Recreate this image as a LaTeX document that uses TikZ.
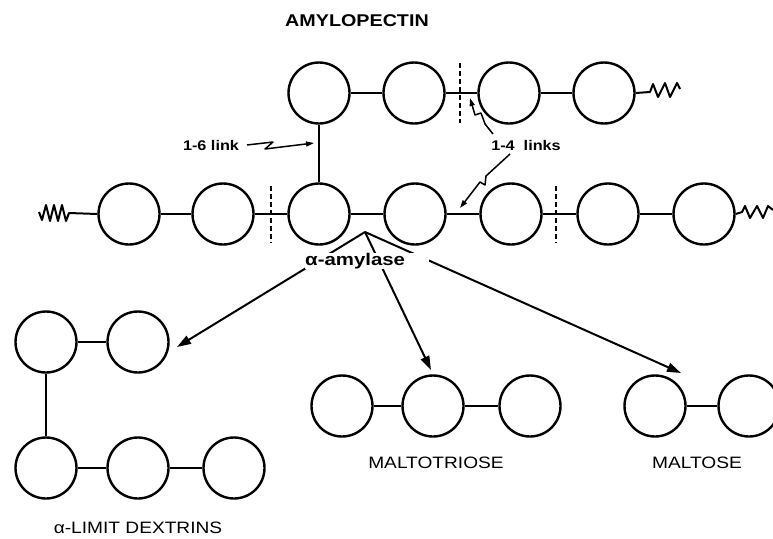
\documentclass[tikz,border=0pt]{standalone}
\usepackage{fontspec}
\setmainfont{Liberation Sans}
\usetikzlibrary{arrows.meta}
\newcommand{\mywide}[1]{\scalebox{1.16}[1]{#1}}
\begin{document}
\begin{tikzpicture}[x=1pt,y=-1pt,
  sug/.style={circle,draw,line width=2.4pt,minimum size=61pt,inner sep=0pt},
  bond/.style={line width=2.3pt},
  wig/.style={line width=2pt,line join=round},
  cut/.style={line width=2.3pt,dash pattern=on 5pt off 3pt},
  arr/.style={line width=2pt,-{Triangle[length=14pt,width=9pt]}},
  warr/.style={line width=1.5pt,line join=round,-{Triangle[length=8pt,width=5pt]}},
  captext/.style={anchor=base,inner sep=0pt,font=\fontsize{16.5}{19}\selectfont},
  smalltext/.style={anchor=base,inner sep=0pt,font=\fontsize{14}{16}\selectfont\bfseries}]
\useasboundingbox (0,0) rectangle (773,538);
\clip (0,0) rectangle (773,538);

% top branch
\node[sug] (t1) at (319,93) {};
\node[sug] (t2) at (414,93) {};
\node[sug] (t3) at (509,93) {};
\node[sug] (t4) at (604,93) {};
% main chain
\node[sug] (m1) at (129,214) {};
\node[sug] (m2) at (223,214) {};
\node[sug] (m3) at (319,214) {};
\node[sug] (m4) at (415,214) {};
\node[sug] (m5) at (511,214) {};
\node[sug] (m6) at (608,214) {};
\node[sug] (m7) at (704,214) {};
% limit dextrins
\node[sug] (d1) at (46,342) {};
\node[sug] (d2) at (138,342) {};
\node[sug] (d3) at (46,468) {};
\node[sug] (d4) at (138,468) {};
\node[sug] (d5) at (234,468) {};
% maltotriose
\node[sug] (a1) at (342,406) {};
\node[sug] (a2) at (433,406) {};
\node[sug] (a3) at (530,406) {};
% maltose
\node[sug] (b1) at (655,406) {};
\node[sug] (b2) at (749,406) {};

% bonds
\draw[bond] (t1) -- (t2);
\draw[bond] (t2) -- (t3);
\draw[bond] (t3) -- (t4);
\draw[bond] (t1) -- (m3);
\draw[bond] (m1) -- (m2);
\draw[bond] (m2) -- (m3);
\draw[bond] (m3) -- (m4);
\draw[bond] (m4) -- (m5);
\draw[bond] (m5) -- (m6);
\draw[bond] (m6) -- (m7);
\draw[bond] (d1) -- (d2);
\draw[bond] (d1) -- (d3);
\draw[bond] (d3) -- (d4);
\draw[bond] (d4) -- (d5);
\draw[bond] (a1) -- (a2);
\draw[bond] (a2) -- (a3);
\draw[bond] (b1) -- (b2);

% chain continuations
\coordinate (wl) at (39,212);
\coordinate (wt) at (680,89);
\coordinate (wr) at (773,210);
\draw[wig] (m1.west) -- (69,213) -- (66,221) -- (62,205) -- (58,221) -- (54,205) -- (50,221) -- (46,205) -- (42,220) -- (wl);
\draw[wig] (t4.east) -- (650,92) -- (653,84) -- (658,97) -- (665,83) -- (670,97) -- (677,83) -- (wt);
\draw[wig] (m7.east) -- (742,212) -- (745,206) -- (750,218) -- (757,206) -- (763,218) -- (768,206) -- (wr);

% cut marks
\coordinate (c1a) at (460,63); \coordinate (c1b) at (460,123);
\coordinate (c2a) at (271,186); \coordinate (c2b) at (271,243);
\coordinate (c3a) at (556,186); \coordinate (c3b) at (556,243);
\draw[cut] (c1a) -- (c1b);
\draw[cut] (c2a) -- (c2b);
\draw[cut] (c3a) -- (c3b);

% labels
\node[anchor=base,inner sep=0pt,font=\fontsize{17}{20}\selectfont\bfseries] (title) at (357,27) {\mywide{AMYLOPECTIN}};
\node[smalltext] (l16) at (211,150) {\mywide{1-6 link}};
\node[smalltext] (l14) at (526,150) {\mywide{1-4\ \ links}};
\node[captext] (ldx) at (138,533) {\mywide{α-LIMIT DEXTRINS}};
\node[captext] (lmt) at (436,468) {\mywide{MALTOTRIOSE}};
\node[captext] (lma) at (697,468) {\mywide{MALTOSE}};

% pointer arrows to links
\coordinate (p16) at (314,143);
\coordinate (p14a) at (470,98);
\coordinate (p14b) at (460,208);
\coordinate (s16) at (247,145);
\coordinate (s14a) at (493,134);
\coordinate (s14b) at (510,154);
\draw[warr] (s16) -- (273,142) -- (265,149) -- (p16);
\draw[warr] (s14a) -- (485,124) -- (481,113) -- (475,115) -- (p14a);
\draw[warr] (s14b) -- (486,176) -- (485,185) -- (480,182) -- (p14b);

% amylase arrows
\coordinate (apex) at (365,232);
\coordinate (tipL) at (177,347);
\coordinate (tipM) at (431,370);
\coordinate (tipR) at (681,373);
\draw[arr] (apex) -- (tipL);
\draw[arr] (apex) -- (tipM);
\draw[arr] (apex) -- (tipR);
\node[anchor=base west,inner sep=0pt,fill=white,font=\fontsize{17}{20}\selectfont\bfseries] (amy) at (305,265) {\scalebox{1.2}[1]{α-amylase}\hspace*{24pt}};
\end{tikzpicture}
\end{document}
